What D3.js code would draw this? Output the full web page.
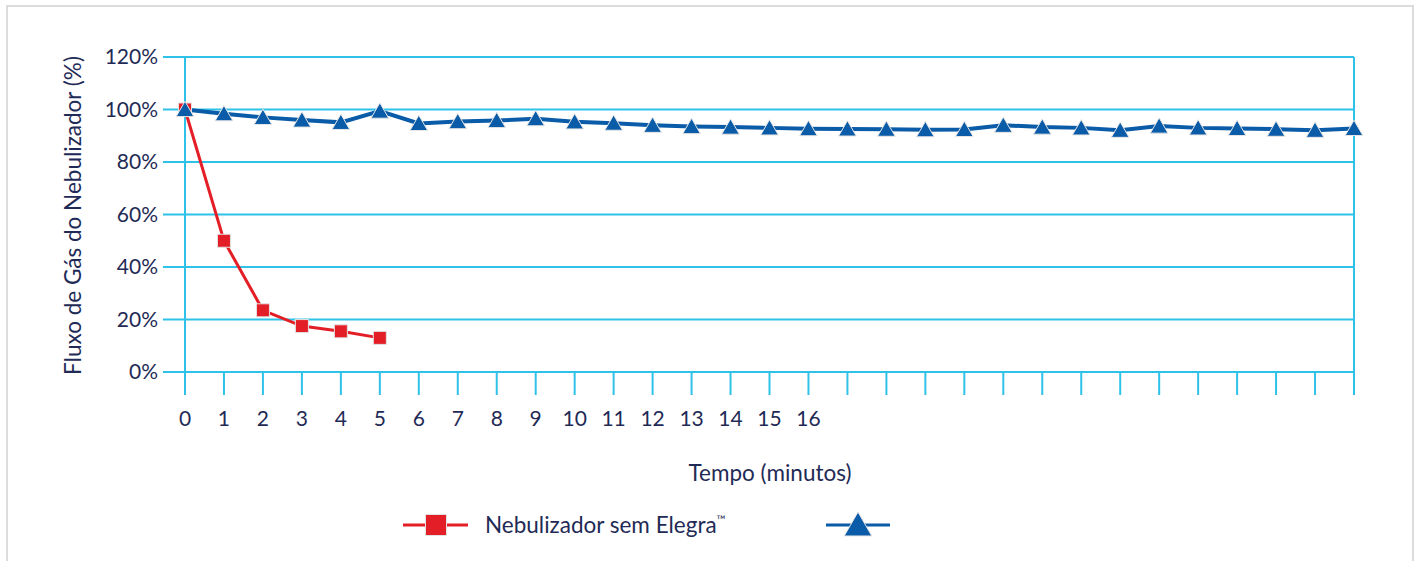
<!DOCTYPE html>
<html>
<head>
<meta charset="utf-8">
<script src="https://cdn.jsdelivr.net/npm/d3@7"></script>
<style>
  body { margin: 0; background: #fff; }
  text { font-family: Lato, "Open Sans", sans-serif; fill: #1f2b56; }
</style>
</head>
<body>
<div id="vis"></div>
<script>
const width = 1418;
const height = 561;

// minutes on the x axis
const minutes = [0, 1, 2, 3, 4, 5, 6, 7, 8, 9, 10, 11, 12, 13, 14, 15, 16, 17, 18, 19, 20, 21, 22, 23, 24, 25, 26, 27, 28, 29, 30];
const xTickLabels = ["0", "1", "2", "3", "4", "5", "6", "7", "8", "9", "10", "11", "12", "13", "14", "15", "16"];
const yTicks = [0, 20, 40, 60, 80, 100, 120];

// Nebulizador sem Elegra (0-5 min)
const semElegra = [100, 50, 23.5, 17.5, 15.5, 13];
// second series (blue triangles)
const comElegra = [100, 98.4, 97.0, 96.0, 95.1, 99.4, 94.7, 95.4, 95.8, 96.5, 95.3, 94.8, 94.0, 93.5, 93.3,
  93.0, 92.7, 92.6, 92.5, 92.3, 92.4, 94.0, 93.3, 93.0, 92.1, 93.7, 93.0, 92.8, 92.5, 92.1, 92.8];

const gridColor = "#2fc2e8";
const red = "#e31e27";
const blue = "#0a5ba8";

const svg = d3.select("#vis")
  .append("svg")
  .attr("width", width)
  .attr("height", height);

// outer frame
svg.append("rect")
  .attr("x", 7)
  .attr("y", 6)
  .attr("width", 1406)
  .attr("height", 600)
  .attr("fill", "none")
  .attr("stroke", "#dcdcdc")
  .attr("stroke-width", 2);

const x = d3.scaleLinear().domain([0, 30]).range([185, 1354]);
const y = d3.scaleLinear().domain([0, 120]).range([372, 57]);
const tickBottom = 395;

// horizontal gridlines
svg.selectAll(".hgrid")
  .data(yTicks)
  .enter()
  .append("line")
  .attr("x1", 163)
  .attr("x2", x(30))
  .attr("y1", d => y(d))
  .attr("y2", d => y(d))
  .attr("stroke", gridColor)
  .attr("stroke-width", 2);

// left and right vertical lines
svg.selectAll(".vside")
  .data([0, 30])
  .enter()
  .append("line")
  .attr("x1", d => x(d))
  .attr("x2", d => x(d))
  .attr("y1", y(120))
  .attr("y2", tickBottom)
  .attr("stroke", gridColor)
  .attr("stroke-width", 2);

// x ticks
svg.selectAll(".xtick")
  .data(minutes)
  .enter()
  .append("line")
  .attr("x1", d => x(d))
  .attr("x2", d => x(d))
  .attr("y1", y(0))
  .attr("y2", tickBottom)
  .attr("stroke", gridColor)
  .attr("stroke-width", 2);

// y tick labels
svg.selectAll(".ylabel")
  .data(yTicks)
  .enter()
  .append("text")
  .attr("x", 158)
  .attr("y", d => y(d) + 7)
  .attr("text-anchor", "end")
  .attr("font-size", "21px")
  .text(d => d + "%");

// x tick labels
svg.selectAll(".xlabel")
  .data(xTickLabels)
  .enter()
  .append("text")
  .attr("x", (d, i) => x(minutes[i]))
  .attr("y", 426)
  .attr("text-anchor", "middle")
  .attr("font-size", "21px")
  .text(d => d);

// axis titles
svg.append("text")
  .attr("transform", `translate(81, ${y(60) + 1}) rotate(-90)`)
  .attr("text-anchor", "middle")
  .attr("font-size", "22.5px")
  .text("Fluxo de Gás do Nebulizador (%)");

svg.append("text")
  .attr("x", 770)
  .attr("y", 481)
  .attr("text-anchor", "middle")
  .attr("font-size", "22.5px")
  .text("Tempo (minutos)");

const line = d3.line()
  .x((d, i) => x(minutes[i]))
  .y(d => y(d));

const triangle = d3.symbol().type(d3.symbolTriangle).size(135);
const bigTriangle = d3.symbol().type(d3.symbolTriangle).size(330);

// blue series
svg.append("path")
  .datum(comElegra)
  .attr("fill", "none")
  .attr("stroke", blue)
  .attr("stroke-width", 4)
  .attr("d", line);

// red series
svg.append("path")
  .datum(semElegra)
  .attr("fill", "none")
  .attr("stroke", red)
  .attr("stroke-width", 3)
  .attr("d", line);

svg.selectAll(".sq")
  .data(semElegra)
  .enter()
  .append("rect")
  .attr("x", (d, i) => x(minutes[i]) - 6.5)
  .attr("y", d => y(d) - 6.5)
  .attr("width", 13)
  .attr("height", 13)
  .attr("fill", red)
  .attr("stroke", "#e2e2e2")
  .attr("stroke-width", 1);

// triangles shifted so their box centre sits on the point
svg.selectAll(".tri")
  .data(comElegra)
  .enter()
  .append("path")
  .attr("d", triangle)
  .attr("transform", (d, i) => `translate(${x(minutes[i])}, ${y(d) + 2})`)
  .attr("fill", blue)
  .attr("stroke", "#e6e6e6")
  .attr("stroke-width", 1);

// legend
const legendY = 525;
svg.append("line")
  .attr("x1", 403).attr("x2", 468)
  .attr("y1", legendY).attr("y2", legendY)
  .attr("stroke", red).attr("stroke-width", 3);
svg.append("rect")
  .attr("x", 436 - 10.5).attr("y", legendY - 10.5)
  .attr("width", 21).attr("height", 21)
  .attr("fill", red)
  .attr("stroke", "#e2e2e2").attr("stroke-width", 1);
const legText = svg.append("text")
  .attr("x", 485)
  .attr("y", legendY + 8)
  .attr("font-size", "22.5px");
legText.append("tspan").text("Nebulizador sem Elegra");
legText.append("tspan")
  .attr("font-size", "12px")
  .attr("dy", -9)
  .text("™");

svg.append("line")
  .attr("x1", 826).attr("x2", 890)
  .attr("y1", legendY).attr("y2", legendY)
  .attr("stroke", blue).attr("stroke-width", 3);
svg.append("path")
  .attr("d", bigTriangle)
  .attr("transform", `translate(858, ${legendY + 3})`)
  .attr("fill", blue)
  .attr("stroke", "#e6e6e6").attr("stroke-width", 1);
</script>
</body>
</html>
